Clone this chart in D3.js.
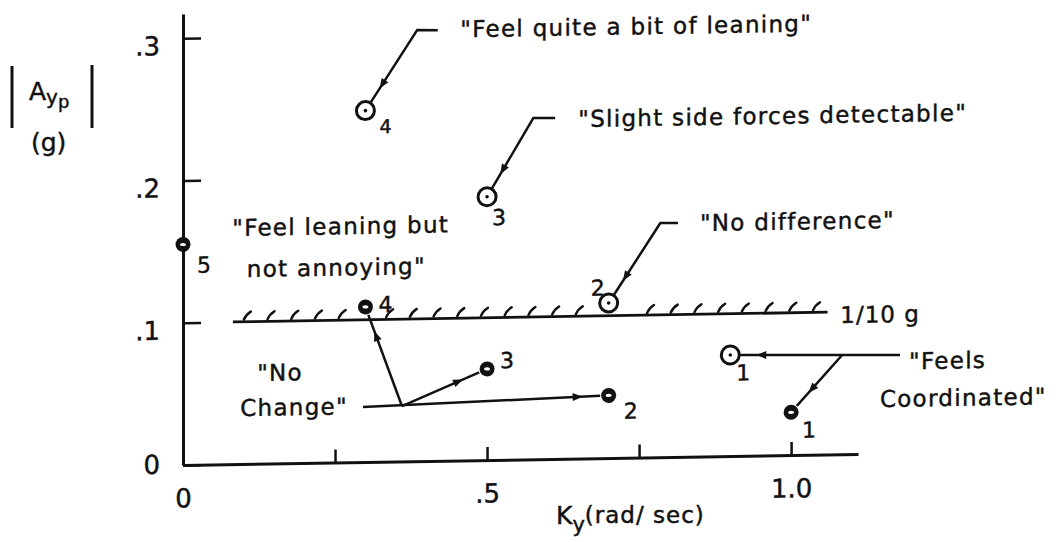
<!DOCTYPE html>
<html>
<head>
<style>
  body { margin: 0; background: #fff; }
  svg text { font-family: "DejaVu Sans", sans-serif; fill: #111; stroke: #111; stroke-width: 0.45px; }
</style>
</head>
<body>
<svg id="chart"></svg>
<script src="https://d3js.org/d3.v7.min.js"></script>
<script>
// ---- data ----
// pilot comments, motion base on (open) and off (filled)
const openLabels = ["1", "2", "3", "4"];
const openK = [0.9, 0.7, 0.5, 0.3];           // Ky (rad/sec)
const openA = [0.071, 0.109, 0.185, 0.247];   // |Ayp| (g)

const filledLabels = ["1", "2", "3", "4", "5"];
const filledK = [1.0, 0.7, 0.5, 0.3, 0];
const filledA = [0.030, 0.044, 0.064, 0.109, 0.155];

const xTicks = [0, 0.25, 0.5, 0.75, 1.0];
const xTickLabels = ["0", "", ".5", "", "1.0"];
const yTicks = [0, 0.1, 0.2, 0.3];
const yTickLabels = ["0", ".1", ".2", ".3"];

const threshold = 0.1;
const thresholdLabel = "1/10 g";

const commentLines = [
  "\"Feel quite a bit of leaning\"",
  "\"Slight side forces detectable\"",
  "\"No difference\"",
  "\"Feel leaning but",
  "not annoying\"",
  "\"No",
  "Change\"",
  "\"Feels",
  "Coordinated\""
];

// ---- layout ----
const W = 1061, H = 542;
const ink = "#111";
const svg = d3.select("#chart").attr("width", W).attr("height", H);

const x = d3.scaleLinear().domain([0, 1.11]).range([183, 858]);
const y = d3.scaleLinear().domain([0, 0.317]).range([465, 14]);

// the scanned figure is slightly sheared
const plot = svg.append("g")
  .attr("transform", "translate(183,0) skewY(-0.94) translate(-183,0)");

// axes
const xAxis = plot.append("g")
  .attr("transform", `translate(0,${y(0)})`)
  .call(d3.axisBottom(x).tickValues(xTicks).tickFormat((d, i) => xTickLabels[i])
    .tickSizeInner(-13).tickSizeOuter(0).tickPadding(24));

const yAxis = plot.append("g")
  .attr("transform", `translate(${x(0)},0)`)
  .call(d3.axisLeft(y).tickValues(yTicks).tickFormat((d, i) => yTickLabels[i])
    .tickSizeInner(-18).tickSizeOuter(0).tickPadding(23));

[xAxis, yAxis].forEach(g => {
  g.select(".domain").attr("stroke", ink).attr("stroke-width", 3);
  g.selectAll(".tick line").attr("stroke", ink).attr("stroke-width", 2.5);
  g.selectAll(".tick text").attr("font-size", 26).attr("fill", ink);
});
yAxis.selectAll(".tick text").attr("dy", d => d === 0 ? "0.3em" : "0.62em");

// 1/10 g boundary with hatching
const tStart = 0.082, tEnd = 1.06;
plot.append("line")
  .attr("x1", x(tStart)).attr("x2", x(tEnd))
  .attr("y1", y(threshold)).attr("y2", y(threshold))
  .attr("stroke", ink).attr("stroke-width", 2.8);

const hatchK = d3.range(0.1, tEnd, 0.039)
  .filter(k => Math.abs(k - 0.3) > 0.025 && Math.abs(k - 0.7) > 0.025);
plot.selectAll(".hatch")
  .data(hatchK)
  .enter()
  .append("path")
  .attr("class", "hatch")
  .attr("d", k => `M${x(k)},${y(threshold) - 2} q2,-5 7,-8`)
  .attr("fill", "none").attr("stroke", ink).attr("stroke-width", 2.4)
  .attr("stroke-linecap", "round");

plot.append("text")
  .attr("x", x(1.081)).attr("y", y(0.0922))
  .attr("font-size", 23).attr("letter-spacing", 1)
  .text(thresholdLabel);

// points
const openPts = openK.map((k, i) => ({ k, a: openA[i], label: openLabels[i] }));
const filledPts = filledK.map((k, i) => ({ k, a: filledA[i], label: filledLabels[i] }));
const rOpen = 9, rFilled = 7.5;

// label offsets in px (dx, dy, size)
const openLabelPos = { "1": [13, 18, 22], "2": [-11, -15, 22], "3": [12, 21, 22], "4": [20, 16, 19] };
const filledLabelPos = { "1": [18, 18, 22], "2": [22, 16, 22], "3": [20, -8, 22], "4": [20, -2, 22], "5": [21, 21, 22] };

// comment positions (K, Ayp at text start / baseline)
const commentAt = [
  [0.456, 0.2975], [0.650, 0.233], [0.850, 0.1585],
  [0.081, 0.1604], [0.105, 0.1314],
  [0.122, 0.0582], [0.094, 0.0337],
  [1.194, 0.059], [1.146, 0.0327]
];

plot.selectAll(".comment")
  .data(commentLines)
  .enter()
  .append("text")
  .attr("class", "comment")
  .attr("x", (d, i) => x(commentAt[i][0]))
  .attr("y", (d, i) => y(commentAt[i][1]))
  .attr("font-size", 23)
  .attr("letter-spacing", 1.3)
  .text(d => d);

// leader lines: start points, then target marker
const leaders = [
  { path: [[0.419, 0.3027], [0.385, 0.303]], to: openPts[3], r: rOpen },
  { path: [[0.612, 0.2396], [0.576, 0.2398]], to: openPts[2], r: rOpen },
  { path: [[0.814, 0.1644], [0.785, 0.1646]], to: openPts[1], r: rOpen },
  { path: [[0.296, 0.0387]], to: filledPts[1], r: rFilled },
  { path: [[0.36, 0.0389]], to: filledPts[3], r: rFilled },
  { path: [[0.36, 0.0389]], to: filledPts[2], r: rFilled },
  { path: [[1.179, 0.069]], to: openPts[0], r: rOpen },
  { path: [[1.084, 0.0697]], to: filledPts[0], r: rFilled }
];

leaders.forEach(l => {
  const pts = l.path.map(p => [x(p[0]), y(p[1])]);
  const c = [x(l.to.k), y(l.to.a)];
  const prev = pts[pts.length - 1];
  const len = Math.hypot(c[0] - prev[0], c[1] - prev[1]);
  const u = [(c[0] - prev[0]) / len, (c[1] - prev[1]) / len];
  const end = [c[0] - u[0] * (l.r + 1), c[1] - u[1] * (l.r + 1)];
  plot.append("path")
    .attr("d", d3.line()([...pts, end]))
    .attr("fill", "none").attr("stroke", ink).attr("stroke-width", 2.5)
    .attr("stroke-linejoin", "round");
  // arrow head
  const tip = [c[0] - u[0] * 26, c[1] - u[1] * 26];
  const L = 10, hw = 4;
  const b = [tip[0] - u[0] * L, tip[1] - u[1] * L];
  plot.append("path")
    .attr("d", `M${tip[0]},${tip[1]}L${b[0] - u[1] * hw},${b[1] + u[0] * hw}L${b[0] + u[1] * hw},${b[1] - u[0] * hw}Z`)
    .attr("fill", ink);
});

// open markers
const og = plot.selectAll(".open")
  .data(openPts)
  .enter()
  .append("g")
  .attr("class", "open")
  .attr("transform", d => `translate(${x(d.k)},${y(d.a)})`);
og.append("circle").attr("r", rOpen).attr("fill", "#fff").attr("stroke", ink).attr("stroke-width", 3);
og.append("circle").attr("r", 1.8).attr("fill", ink);
og.append("text")
  .attr("x", d => openLabelPos[d.label][0])
  .attr("y", d => openLabelPos[d.label][1])
  .attr("font-size", d => openLabelPos[d.label][2])
  .attr("text-anchor", "middle").attr("dominant-baseline", "central")
  .text(d => d.label);

// filled markers
const fg = plot.selectAll(".filled")
  .data(filledPts)
  .enter()
  .append("g")
  .attr("class", "filled")
  .attr("transform", d => `translate(${x(d.k)},${y(d.a)})`);
fg.append("circle").attr("r", rFilled).attr("fill", ink);
fg.append("ellipse").attr("rx", 3).attr("ry", 1.6).attr("fill", "#fff");
fg.append("text")
  .attr("x", d => filledLabelPos[d.label][0])
  .attr("y", d => filledLabelPos[d.label][1])
  .attr("font-size", d => filledLabelPos[d.label][2])
  .attr("text-anchor", "middle").attr("dominant-baseline", "central")
  .text(d => d.label);

// y-axis title |Ayp| (g)
svg.append("line").attr("x1", 12).attr("x2", 12).attr("y1", 66).attr("y2", 128)
  .attr("stroke", ink).attr("stroke-width", 3);
svg.append("line").attr("x1", 92).attr("x2", 92).attr("y1", 65).attr("y2", 128)
  .attr("stroke", ink).attr("stroke-width", 3);
const yt = svg.append("text").attr("x", 29).attr("y", 100).attr("font-size", 25);
yt.append("tspan").text("A");
yt.append("tspan").attr("font-size", 20).attr("dy", 4).text("y");
yt.append("tspan").attr("font-size", 18).attr("dy", 4).text("p");
svg.append("text").attr("x", 31).attr("y", 151).attr("font-size", 25).text("(g)");

// x-axis title Ky (rad/sec)
const xt = svg.append("text").attr("x", 556).attr("y", 524).attr("font-size", 25);
xt.append("tspan").text("K");
xt.append("tspan").attr("font-size", 21).attr("dy", 8).text("y");
xt.append("tspan").attr("font-size", 23).attr("dy", -9).attr("letter-spacing", 1).text("(rad/ sec)");
</script>
</body>
</html>
